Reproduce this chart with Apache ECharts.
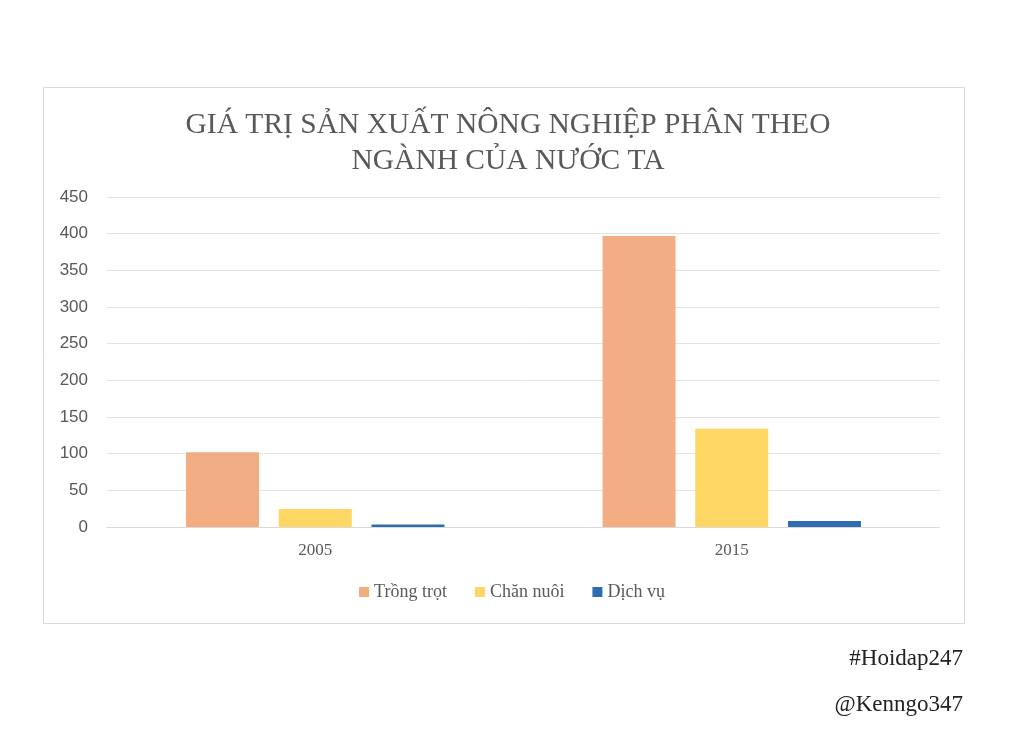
<!DOCTYPE html>
<html><head><meta charset="utf-8">
<script src="https://cdn.jsdelivr.net/npm/echarts@6/dist/echarts.min.js"></script>
<style>html,body{margin:0;padding:0;background:#fff}#c{width:1024px;height:742px}</style>
</head><body><div id="c"></div>
<script>
const categories = ['2005', '2015'];
const seriesNames = ['Trồng trọt', 'Chăn nuôi', 'Dịch vụ'];
const trongTrot = [101.8, 396.7];
const chanNuoi = [24.5, 134.0];
const dichVu = [3.4, 8.2];
const yTicks = [0, 450, 50];
const colors = ['#F2AE82', '#FDD663', '#2E6EAE'];

const chart = echarts.init(document.getElementById('c'), null, {renderer: 'canvas'});
const serif = '"Liberation Serif", "DejaVu Serif", serif';
const sans = '"Liberation Sans", "Open Sans", sans-serif';
const data = [trongTrot, chanNuoi, dichVu];
chart.setOption({
  backgroundColor: '#fff',
  animation: false,
  title: {
    text: 'GIÁ TRỊ SẢN XUẤT NÔNG NGHIỆP PHÂN THEO\nNGÀNH CỦA NƯỚC TA',
    left: 503, top: 102, textAlign: 'center',
    textStyle: {fontFamily: serif, fontSize: 29.5, fontWeight: 'normal', color: '#595959', lineHeight: 36}
  },
  graphic: [
    {type: 'rect', shape: {x: 43.5, y: 87.5, width: 921, height: 536}, style: {fill: 'none', stroke: '#d9d9d9', lineWidth: 1}, z: -1},
    {type: 'text', right: 61, top: 647, style: {text: '#Hoidap247', font: '23px ' + serif, fill: '#222'}},
    {type: 'text', right: 61, top: 693, style: {text: '@Kenngo347', font: '23px ' + serif, fill: '#222'}}
  ],
  legend: {
    data: seriesNames, bottom: 136, left: 'center', itemWidth: 10, itemHeight: 10, itemGap: 28,
    icon: 'rect',
    textStyle: {fontFamily: serif, fontSize: 18, color: '#595959'}
  },
  grid: {left: 107, right: 84, top: 197, bottom: 215, containLabel: false},
  xAxis: {
    type: 'category', data: categories,
    axisLine: {lineStyle: {color: '#d9d9d9'}}, axisTick: {show: false},
    axisLabel: {fontFamily: serif, fontSize: 17, color: '#595959', margin: 15}
  },
  yAxis: {
    type: 'value', min: yTicks[0], max: yTicks[1], interval: yTicks[2],
    axisLine: {show: false}, axisTick: {show: false},
    axisLabel: {fontFamily: sans, fontSize: 17, color: '#595959', margin: 19},
    splitLine: {lineStyle: {color: '#e3e3e3'}}
  },
  series: seriesNames.map((n, i) => ({
    name: n, type: 'bar', data: data[i], barWidth: 73, barGap: '27%',
    itemStyle: {color: colors[i]}
  }))
});
</script></body></html>
